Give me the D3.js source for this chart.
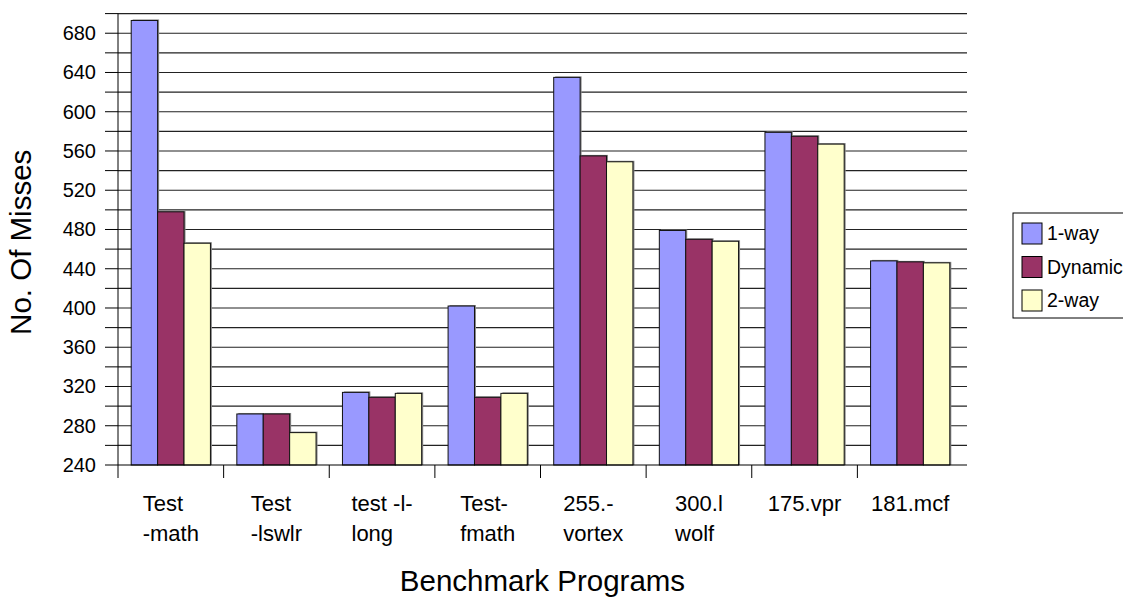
<!DOCTYPE html>
<html>
<head>
<meta charset="utf-8">
<script src="https://cdn.jsdelivr.net/npm/d3@7"></script>
<style>
  body { margin: 0; background: #fff; }
  svg { display: block; font-family: "Liberation Sans", Arial, sans-serif; }
</style>
</head>
<body>
<div id="chart"></div>
<script>
// Benchmark cache misses
const categories = ["Test -math", "Test -lswlr", "test -l- long", "Test- fmath",
  "255.- vortex", "300.l wolf", "175.vpr", "181.mcf"];
const categoryLines = [["Test", "-math"], ["Test", "-lswlr"], ["test -l-", "long"],
  ["Test-", "fmath"], ["255.-", "vortex"], ["300.l", "wolf"], ["175.vpr"], ["181.mcf"]];
const seriesNames = ["1-way", "Dynamic", "2-way"];
const oneWay = [693, 292, 314, 402, 635, 479, 579, 448];
const dynamic = [498, 292, 309, 309, 555, 470, 575, 447];
const twoWay = [466, 273, 313, 313, 549, 468, 567, 446];
const yTicks = [240, 280, 320, 360, 400, 440, 480, 520, 560, 600, 640, 680];

const colors = ["#9999FF", "#993366", "#FFFFCC"];
const seriesValues = [oneWay, dynamic, twoWay];

const W = 1123, H = 599;
const plot = { left: 118, right: 963, top: 13.6, bottom: 465 };

const svg = d3.select("#chart").append("svg")
  .attr("width", W).attr("height", H);

const x = d3.scaleBand()
  .domain(categories)
  .range([plot.left, plot.right])
  .paddingInner(0).paddingOuter(0);

const xs = d3.scaleBand()
  .domain(seriesNames)
  .range([x.bandwidth() * 0.125, x.bandwidth() * 0.875]);

const y = d3.scaleLinear()
  .domain([240, 700])
  .range([plot.bottom, plot.top]);

// Gridlines every 20
const grid = svg.append("g");
grid.selectAll("line")
  .data(d3.range(260, 701, 20))
  .join("line")
  .attr("x1", plot.left).attr("x2", plot.right + 4)
  .attr("y1", d => y(d)).attr("y2", d => y(d))
  .attr("stroke", "#222").attr("stroke-width", 1.2);

// Bars
categories.forEach((c, i) => {
  const g = svg.append("g").attr("transform", `translate(${x(c)},0)`);
  seriesNames.forEach((s, j) => {
    const v = seriesValues[j][i];
    g.append("rect")
      .attr("x", xs(s) + 1.5)
      .attr("y", y(v) - 1)
      .attr("width", xs.bandwidth())
      .attr("height", plot.bottom - y(v) + 1)
      .attr("fill", "#888");
    g.append("rect")
      .attr("x", xs(s))
      .attr("y", y(v))
      .attr("width", xs.bandwidth())
      .attr("height", plot.bottom - y(v))
      .attr("fill", colors[j])
      .attr("stroke", "#111").attr("stroke-width", 1);
  });
});

// Y axis
const yAxis = svg.append("g");
yAxis.append("line")
  .attr("x1", plot.left).attr("x2", plot.left)
  .attr("y1", plot.top).attr("y2", plot.bottom + 13)
  .attr("stroke", "#000");
yAxis.selectAll("line.tick")
  .data(d3.range(240, 701, 20))
  .join("line").attr("class", "tick")
  .attr("x1", plot.left - 13).attr("x2", plot.left)
  .attr("y1", d => y(d)).attr("y2", d => y(d))
  .attr("stroke", "#000");
yAxis.selectAll("text")
  .data(yTicks)
  .join("text")
  .attr("x", 96).attr("y", d => y(d) + 7)
  .attr("text-anchor", "end")
  .attr("font-size", 20)
  .text(d => d);

// X axis
const xAxis = svg.append("g");
xAxis.append("line")
  .attr("x1", plot.left).attr("x2", plot.right + 4)
  .attr("y1", plot.bottom).attr("y2", plot.bottom)
  .attr("stroke", "#000");
xAxis.selectAll("line.tick")
  .data(categories.slice(1))
  .join("line").attr("class", "tick")
  .attr("x1", d => x(d)).attr("x2", d => x(d))
  .attr("y1", plot.bottom).attr("y2", plot.bottom + 13)
  .attr("stroke", "#000");

categories.forEach((c, i) => {
  const t = xAxis.append("text")
    .attr("font-size", 22)
    .attr("text-anchor", "start");
  categoryLines[i].forEach((line, k) => {
    t.append("tspan").attr("y", 511 + k * 29.5).text(line);
  });
  // centre the block, keep lines left aligned
  const widths = t.selectAll("tspan").nodes().map(n => n.getComputedTextLength());
  const bx = x(c) + x.bandwidth() / 2 - d3.max(widths) / 2;
  t.selectAll("tspan").attr("x", bx);
});

// Axis titles
svg.append("text")
  .attr("x", (plot.left + plot.right) / 2 + 2).attr("y", 591)
  .attr("text-anchor", "middle")
  .attr("font-size", 29.5)
  .text("Benchmark Programs");

svg.append("text")
  .attr("transform", `translate(31,${(plot.top + plot.bottom) / 2 + 3}) rotate(-90)`)
  .attr("text-anchor", "middle")
  .attr("font-size", 29.5)
  .text("No. Of Misses");

// Legend
const lg = svg.append("g").attr("transform", "translate(1013,213)");
lg.append("rect")
  .attr("x", 0).attr("y", 0).attr("width", 140).attr("height", 105)
  .attr("fill", "#fff").attr("stroke", "#000").attr("stroke-width", 1);
seriesNames.forEach((s, j) => {
  const cy = 20 + j * 33.5;
  lg.append("rect")
    .attr("x", 9).attr("y", cy - 10).attr("width", 20).attr("height", 21)
    .attr("fill", colors[j]).attr("stroke", "#000");
  lg.append("text")
    .attr("x", 34).attr("y", cy + 7)
    .attr("font-size", 19.5)
    .text(s);
});
</script>
</body>
</html>
